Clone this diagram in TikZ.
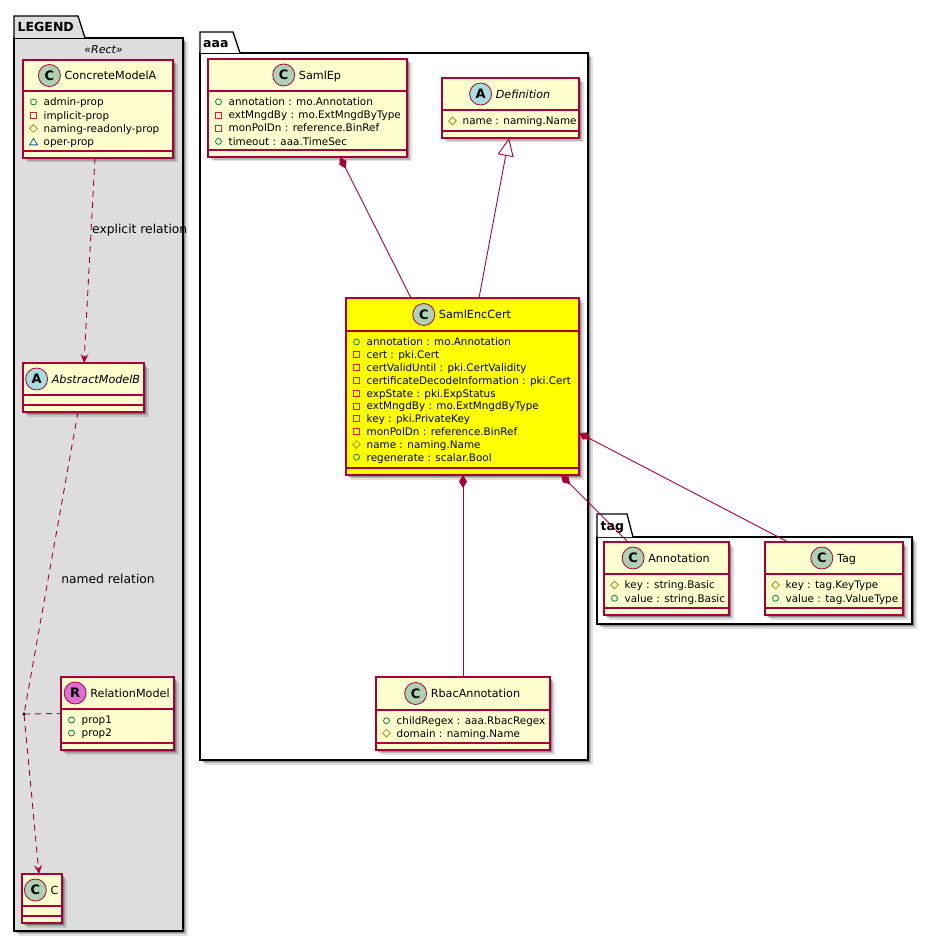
\documentclass[tikz,border=0pt]{standalone}
\usepackage{fontspec}
\setmainfont{DejaVu Sans}
\usetikzlibrary{arrows.meta,calc}
\definecolor{umlborder}{HTML}{A80036}
\definecolor{umlfill}{HTML}{FEFECE}
\definecolor{circC}{HTML}{ADD1B2}
\definecolor{circA}{HTML}{A9DCDF}
\definecolor{circR}{HTML}{DA70D6}
\definecolor{legendfill}{HTML}{DDDDDD}
\definecolor{pubc}{HTML}{038048}
\definecolor{privc}{HTML}{C82930}
\definecolor{protc}{HTML}{B38D22}
\definecolor{pkgc}{HTML}{1963A0}
\definecolor{hiyellow}{HTML}{FFFF00}

\tikzset{
 clsbox/.style={draw=umlborder, line width=1.1pt, inner sep=0pt, outer sep=0pt, anchor=north west},
 sepline/.style={draw=umlborder, line width=1.1pt},
 cname/.style={font=\fontsize{11.2}{13}\selectfont, inner sep=0pt, text height=8.2pt, text depth=0pt},
 attr/.style={font=\fontsize{10.4}{12}\selectfont, inner sep=0pt, anchor=west, text height=7.6pt, text depth=0pt},
 circ/.style={circle, draw=umlborder, line width=0.8pt, minimum size=22pt, inner sep=0pt, font=\fontsize{13}{13}\selectfont\bfseries},
 pkgbody/.style={draw=black, line width=1.3pt, inner sep=0pt, outer sep=0pt, anchor=north west},
 pkgtitle/.style={font=\fontsize{12.5}{14}\selectfont\bfseries, inner sep=0pt, anchor=west, text height=9pt, text depth=0pt},
 rel/.style={draw=umlborder, line width=0.9pt},
 dashrel/.style={rel, dash pattern=on 6pt off 5pt},
 lbl/.style={font=\fontsize{12.3}{14}\selectfont, inner sep=0pt, text height=6.5pt, text depth=0pt},
}

\newcommand\shadowrect[4]{%
 \foreach \s/\o in {1.5/0.22,3/0.18,4.5/0.12}{\fill[black,opacity=\o] (#1+\s,#2+\s) rectangle (#1+#3+\s,#2+#4+\s);}%
}
\newcommand\umlbox[7]{%
 \shadowrect{#2}{#3}{#4}{#5}%
 \node[clsbox, fill=#7, minimum width=#4pt, minimum height=#5pt] (#1) at (#2,#3) {};
 \draw[sepline] (#2,#3+#6) -- ++(#4,0);
 \draw[sepline] (#2,#3+#5-7) -- ++(#4,0);
 \coordinate (#1-h) at (#2+#4/2,#3+#6/2);
}
\newcommand\umlhead[5]{%
 \node[cname, xshift=12.5pt] (#1-n) at (#1-h) {#5#4};
 \node[circ, fill=#3] (#1-c) at ([xshift=-15pt]#1-n.west) {#2};
}
\newcommand\iconpub[2]{\draw[pubc, line width=0.8pt] (#1+10.5,#2) circle (3pt);}
\newcommand\iconpriv[2]{\draw[privc, line width=0.8pt] (#1+7.5,#2-3) rectangle (#1+13.5,#2+3);}
\newcommand\iconprot[2]{\draw[protc, line width=0.8pt] (#1+10.5,#2-3.8) -- (#1+14.3,#2) -- (#1+10.5,#2+3.8) -- (#1+6.7,#2) -- cycle;}
\newcommand\iconpkg[2]{\draw[pkgc, line width=0.8pt] (#1+10.5,#2-3.5) -- (#1+14.5,#2+3) -- (#1+6.5,#2+3) -- cycle;}
\newcommand\attrs[5]{%
 \foreach [count=\i] \kk/\atxt in {#5}{%
   \pgfmathsetmacro\yy{#3+(\i-1)*#4}%
   \csname icon\kk\endcsname{#2}{\yy}%
   \node[attr] (#1-a\i) at (#2+20.5,\yy) {\atxt};
 }%
}

\begin{document}
\begin{tikzpicture}[x=1pt,y=-1pt]
\useasboundingbox (0,0) rectangle (932,941);
\fill[white] (0,0) rectangle (932,941);

% ---------- packages ----------
\shadowrect{14}{38}{169}{893}
\node[pkgbody, fill=legendfill, minimum width=169pt, minimum height=893pt] (legend) at (14,38) {};
\draw[pkgbody, fill=legendfill] (14,38) -- (14,16) -- (78,16) -- (85,38);
\node[pkgtitle] (legend-t) at (17.5,27) {LEGEND};
\node[font=\fontsize{11}{13}\selectfont\itshape, inner sep=0pt] (legend-st) at (103.5,50) {«Rect»};

\shadowrect{200}{53}{388}{707}
\node[pkgbody, fill=white, minimum width=388pt, minimum height=707pt] (aaa) at (200,53) {};
\draw[pkgbody, fill=white] (200,53) -- (200,32) -- (233,32) -- (240,53);
\node[pkgtitle] (aaa-t) at (203,43) {aaa};

\shadowrect{597}{537}{315}{87}
\node[pkgbody, fill=white, minimum width=315pt, minimum height=87pt] (tagpkg) at (597,537) {};
\draw[pkgbody, fill=white] (597,537) -- (597,514) -- (627,514) -- (633,537);
\node[pkgtitle] (tag-t) at (600.5,526) {tag};

% ---------- legend classes ----------
\umlbox{cma}{23}{60}{150}{98}{31}{umlfill}
\umlhead{cma}{C}{circC}{ConcreteModelA}{}
\attrs{cma}{23}{102}{13.3}{pub/admin-prop, priv/implicit-prop, prot/naming-readonly-prop, pkg/oper-prop}

\umlbox{absb}{23}{363}{121}{49}{32}{umlfill}
\umlhead{absb}{A}{circA}{AbstractModelB}{\itshape}

\umlbox{relm}{61}{677}{113}{73}{32}{umlfill}
\umlhead{relm}{R}{circR}{RelationModel}{}
\attrs{relm}{61}{720}{13}{pub/prop1, pub/prop2}

\umlbox{cc}{22}{874}{40}{49}{32}{umlfill}
\umlhead{cc}{C}{circC}{C}{}

% ---------- aaa classes ----------
\umlbox{samlep}{208}{59}{199}{98}{32}{umlfill}
\umlhead{samlep}{C}{circC}{SamlEp}{}
\attrs{samlep}{208}{101.8}{13.2}{pub/annotation : mo.Annotation, priv/extMngdBy : mo.ExtMngdByType, priv/monPolDn : reference.BinRef, pub/timeout : aaa.TimeSec}

\umlbox{def}{442}{78}{137}{60}{32}{umlfill}
\umlhead{def}{A}{circA}{Definition}{\itshape}
\attrs{def}{442}{121}{13}{prot/name : naming.Name}

\umlbox{sec}{346}{298}{233}{177}{33}{hiyellow}
\umlhead{sec}{C}{circC}{SamlEncCert}{}
\attrs{sec}{346}{342}{12.8}{pub/annotation : mo.Annotation, priv/cert : pki.Cert, priv/certValidUntil : pki.CertValidity, priv/certificateDecodeInformation : pki.Cert, priv/expState : pki.ExpStatus, priv/extMngdBy : mo.ExtMngdByType, priv/key : pki.PrivateKey, priv/monPolDn : reference.BinRef, prot/name : naming.Name, pub/regenerate : scalar.Bool}

\umlbox{rbac}{376}{677}{174}{73}{33}{umlfill}
\umlhead{rbac}{C}{circC}{RbacAnnotation}{}
\attrs{rbac}{376}{720.7}{12.5}{pub/childRegex : aaa.RbacRegex, prot/domain : naming.Name}

% ---------- tag classes ----------
\umlbox{ann}{604}{542}{125}{73}{32}{umlfill}
\umlhead{ann}{C}{circC}{Annotation}{}
\attrs{ann}{604}{585}{13.3}{prot/key : string.Basic, pub/value : string.Basic}

\umlbox{tagc}{765}{542}{138}{73}{32}{umlfill}
\umlhead{tagc}{C}{circC}{Tag}{}
\attrs{tagc}{765}{585}{13.3}{prot/key : tag.KeyType, pub/value : tag.ValueType}

% ---------- connectors ----------
\draw[rel, {Diamond[length=13pt,width=8pt]}-] ([xshift=132pt]samlep.south west) -- ([xshift=65pt]sec.north west);
\draw[rel, {Triangle[length=18pt,width=16pt,fill=white]}-] ([xshift=-1.5pt]def.south) -- ([xshift=133pt]sec.north west);
\draw[rel, {Diamond[length=13pt,width=8pt]}-] ([xshift=117pt]sec.south west) -- (rbac.north);
\draw[rel, {Diamond[length=13pt,width=8pt]}-] ([xshift=215pt]sec.south west) -- ([xshift=24pt]ann.north west);
\draw[rel, {Diamond[length=13pt,width=8pt]}-] ([yshift=-135pt]sec.north east) -- ([xshift=23pt]tagc.north west);

\draw[dashrel, -{Stealth[length=9pt,width=8pt,inset=3.5pt]}] ([xshift=72pt]cma.south west) -- ([xshift=61pt]absb.north west);
\node[lbl, anchor=west] (lbl-explicit) at (92,230) {explicit relation};

\coordinate (assocdot) at (24,714);
\draw[dashrel, -{Stealth[length=9pt,width=8pt,inset=3.5pt]}] ([xshift=55pt]absb.south west) -- (assocdot) -- ([xshift=-3pt]cc.north);
\draw[dashrel] (assocdot) -- (relm.west);
\fill[black] (assocdot) circle (1.7pt);
\node[lbl] (lbl-named) at (108,580) {named relation};
\end{tikzpicture}
\end{document}
